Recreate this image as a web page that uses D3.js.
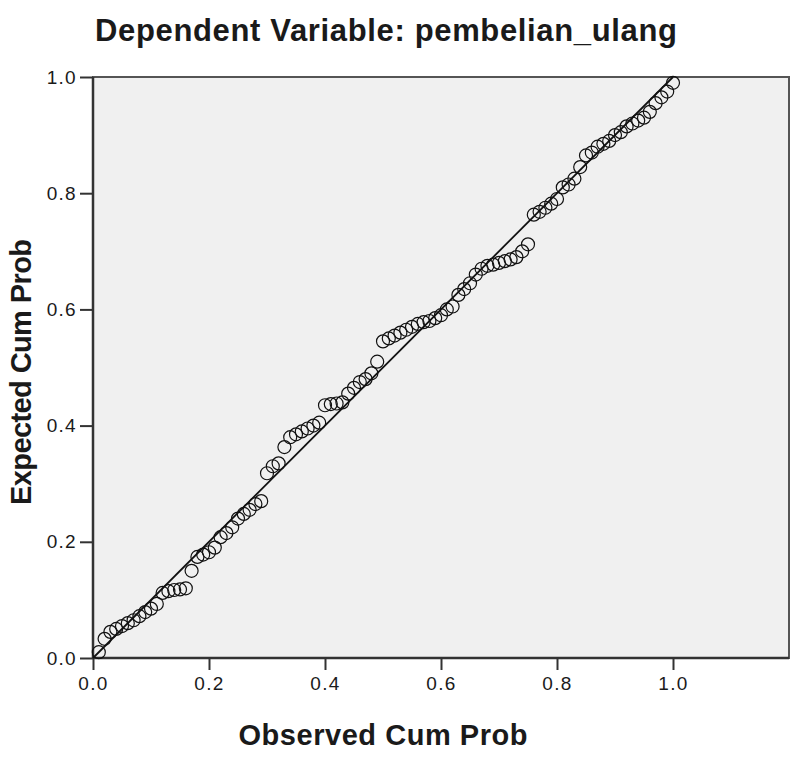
<!DOCTYPE html>
<html lang="en">
<head>
    <meta charset="UTF-8">
    <title>Normal P-P Plot</title>
    <script src="https://d3js.org/d3.v7.min.js"></script>
    <style>
        body { margin: 0; background: #fff; }
        text { font-family: Arial, "Liberation Sans", sans-serif; fill: #1a1a1a; }
        .title { font-size: 31px; font-weight: bold; }
        .axis-title { font-size: 29px; font-weight: bold; }
        .tick-label { font-size: 19px; letter-spacing: 1.3px; }
        .point { fill: none; stroke: #111; stroke-width: 1.2; }
    </style>
</head>
<body>
    <script>
        // Observed cumulative probability (x)
        const observed = [
            0.01, 0.02, 0.03, 0.04, 0.05, 0.06, 0.07, 0.08, 0.09, 0.10,
            0.11, 0.12, 0.13, 0.14, 0.15, 0.16, 0.17, 0.18, 0.19, 0.20,
            0.21, 0.22, 0.23, 0.24, 0.25, 0.26, 0.27, 0.28, 0.29, 0.30,
            0.31, 0.32, 0.33, 0.34, 0.35, 0.36, 0.37, 0.38, 0.39, 0.40,
            0.41, 0.42, 0.43, 0.44, 0.45, 0.46, 0.47, 0.48, 0.49, 0.50,
            0.51, 0.52, 0.53, 0.54, 0.55, 0.56, 0.57, 0.58, 0.59, 0.60,
            0.61, 0.62, 0.63, 0.64, 0.65, 0.66, 0.67, 0.68, 0.69, 0.70,
            0.71, 0.72, 0.73, 0.74, 0.75, 0.76, 0.77, 0.78, 0.79, 0.80,
            0.81, 0.82, 0.83, 0.84, 0.85, 0.86, 0.87, 0.88, 0.89, 0.90,
            0.91, 0.92, 0.93, 0.94, 0.95, 0.96, 0.97, 0.98, 0.99, 1.00
        ];

        // Expected cumulative probability (y)
        const expected = [
            0.010, 0.033, 0.045, 0.050, 0.055, 0.060, 0.065, 0.072, 0.079, 0.085,
            0.093, 0.112, 0.115, 0.117, 0.118, 0.120, 0.150, 0.174, 0.178, 0.182,
            0.190, 0.208, 0.215, 0.225, 0.240, 0.248, 0.255, 0.265, 0.270, 0.318,
            0.330, 0.335, 0.363, 0.380, 0.385, 0.390, 0.395, 0.400, 0.405, 0.435,
            0.437, 0.438, 0.440, 0.455, 0.465, 0.475, 0.480, 0.490, 0.510, 0.545,
            0.550, 0.555, 0.560, 0.565, 0.570, 0.575, 0.578, 0.580, 0.585, 0.590,
            0.600, 0.605, 0.625, 0.635, 0.645, 0.660, 0.670, 0.675, 0.677, 0.680,
            0.683, 0.686, 0.690, 0.700, 0.712, 0.763, 0.768, 0.775, 0.782, 0.790,
            0.810, 0.815, 0.825, 0.845, 0.865, 0.870, 0.880, 0.885, 0.890, 0.900,
            0.905, 0.915, 0.920, 0.925, 0.930, 0.940, 0.955, 0.965, 0.975, 0.990
        ];

        const tickValues = [0, 0.2, 0.4, 0.6, 0.8, 1.0];

        const titleText = "Dependent Variable: pembelian_ulang";
        const xTitle = "Observed Cum Prob";
        const yTitle = "Expected Cum Prob";

        // Layout
        const W = 798, H = 758;
        const margin = {top: 77, left: 93};

        const svg = d3.select("body")
            .append("svg")
            .attr("width", W)
            .attr("height", H);

        // Title
        svg.append("text")
            .attr("class", "title")
            .attr("x", 386)
            .attr("y", 41)
            .attr("text-anchor", "middle")
            .attr("textLength", 582)
            .attr("lengthAdjust", "spacing")
            .text(titleText);

        const g = svg.append("g")
            .attr("transform", `translate(${margin.left},${margin.top})`);

        // Scales: x runs a little past 1.0, y stops at 1.0
        const x = d3.scaleLinear()
            .domain([0, 1.2])
            .range([0, 580 * 1.2]);

        const y = d3.scaleLinear()
            .domain([0, 1])
            .range([581, 0]);

        const plotW = x(1.2);
        const plotH = y(0);

        // Plot background and frame
        g.append("rect")
            .attr("width", plotW)
            .attr("height", plotH)
            .attr("fill", "#f0f0f0")
            .attr("stroke", "#555")
            .attr("stroke-width", 2);

        // Axes
        const xAxis = g.append("g")
            .attr("transform", `translate(0,${plotH})`)
            .call(d3.axisBottom(x).tickValues(tickValues).tickFormat(d3.format(".1f")).tickSize(12).tickPadding(7));

        const yAxis = g.append("g")
            .call(d3.axisLeft(y).tickValues(tickValues).tickFormat(d3.format(".1f")).tickSize(13).tickPadding(3));

        [xAxis, yAxis].forEach(ax => {
            ax.select(".domain").attr("stroke", "#333").attr("stroke-width", 2.5);
            ax.selectAll(".tick line").attr("stroke", "#333").attr("stroke-width", 2);
            ax.selectAll(".tick text")
                .attr("class", "tick-label")
                .attr("fill", "#222");
        });
        yAxis.select(".domain").attr("d", `M0,${plotH}V0`);
        xAxis.select(".domain").attr("d", `M0,0H${plotW}`);

        // Reference diagonal
        g.append("line")
            .attr("x1", x(0))
            .attr("y1", y(0))
            .attr("x2", x(1))
            .attr("y2", y(1))
            .attr("stroke", "#111")
            .attr("stroke-width", 1.8);

        // Points
        g.selectAll(".point")
            .data(observed.map((d, i) => ({o: d, e: expected[i]})))
            .enter()
            .append("circle")
            .attr("class", "point")
            .attr("cx", d => x(d.o))
            .attr("cy", d => y(d.e))
            .attr("r", 6.5);

        // Axis titles
        svg.append("text")
            .attr("class", "axis-title")
            .attr("x", 383)
            .attr("y", 745)
            .attr("text-anchor", "middle")
            .attr("textLength", 289)
            .attr("lengthAdjust", "spacing")
            .text(xTitle);

        svg.append("text")
            .attr("class", "axis-title")
            .attr("transform", "translate(31,372) rotate(-90)")
            .attr("text-anchor", "middle")
            .attr("textLength", 266)
            .attr("lengthAdjust", "spacing")
            .text(yTitle);
    </script>
</body>
</html>
